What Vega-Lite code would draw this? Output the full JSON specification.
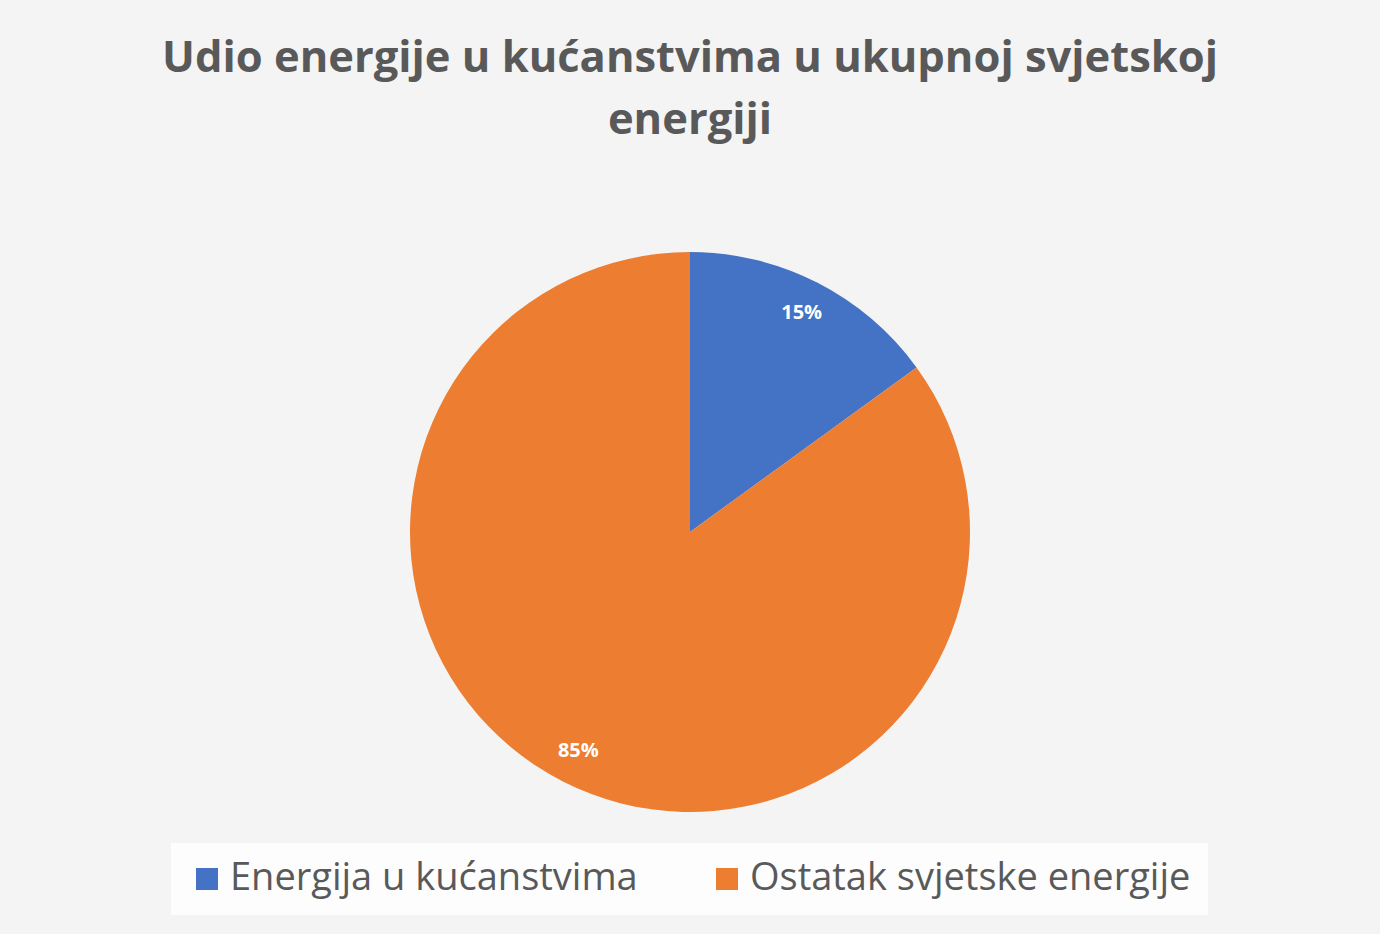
{
  "$schema": "https://vega.github.io/schema/vega-lite/v6.json",
  "autosize": "none",
  "width": 1380,
  "height": 804,
  "padding": {"top": 130, "left": 0, "right": 0, "bottom": 0},
  "background": "#f4f4f4",
  "title": {
    "text": ["Udio energije u kućanstvima u ukupnoj svjetskoj", "energiji"],
    "font": "Open Sans",
    "fontSize": 43.5,
    "fontWeight": "bold",
    "color": "#595959",
    "anchor": "middle",
    "lineHeight": 62,
    "offset": -13
  },
  "data": {
    "values": [
      {"kategorija": "Energija u kućanstvima", "udio": 0.15, "redoslijed": 1},
      {"kategorija": "Ostatak svjetske energije", "udio": 0.85, "redoslijed": 2}
    ]
  },
  "encoding": {
    "theta": {"field": "udio", "type": "quantitative", "stack": true},
    "order": {"field": "redoslijed", "type": "quantitative"},
    "color": {
      "field": "kategorija",
      "type": "nominal",
      "sort": ["Energija u kućanstvima", "Ostatak svjetske energije"],
      "scale": {"range": ["#4472C4", "#ED7D31"]},
      "legend": {
        "title": null,
        "orient": "none",
        "direction": "horizontal",
        "legendX": 171,
        "legendY": 713,
        "columns": 2,
        "columnPadding": 70,
        "fillColor": "#fdfdfd",
        "padding": 17,
        "symbolType": "square",
        "symbolSize": 484,
        "symbolStrokeWidth": 0,
        "symbolOpacity": 1,
        "labelFont": "Open Sans",
        "labelFontSize": 38,
        "labelColor": "#595959",
        "labelLimit": 600,
        "labelOffset": 4
      }
    }
  },
  "layer": [
    {
      "mark": {"type": "arc", "outerRadius": 280}
    },
    {
      "mark": {
        "type": "text",
        "radius": 246,
        "font": "Open Sans",
        "fontSize": 20,
        "fontWeight": "bold"
      },
      "encoding": {
        "text": {"field": "udio", "type": "quantitative", "format": ".0%"},
        "color": {"value": "#ffffff"}
      }
    }
  ],
  "config": {"view": {"stroke": null}}
}
